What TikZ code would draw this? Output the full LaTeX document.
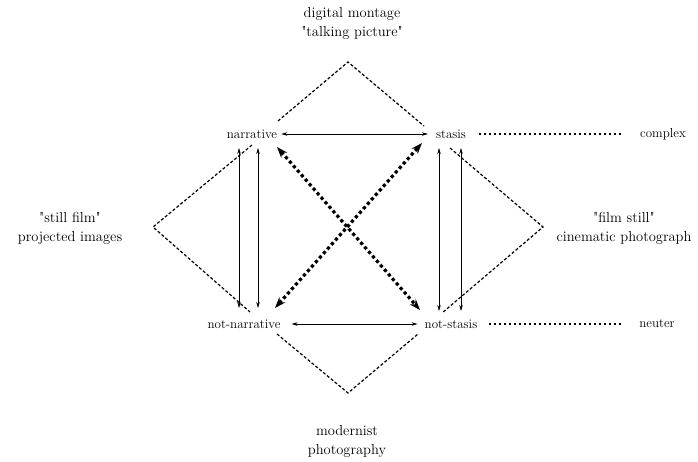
\documentclass[tikz,border=0pt]{standalone}
\usetikzlibrary{arrows.meta}
\begin{document}
\begin{tikzpicture}[x=1pt,y=-1pt,
  term/.style={font=\fontsize{13}{15}\selectfont},
  side/.style={font=\fontsize{14.5}{19}\selectfont,align=center},
  link/.style={line width=0.6pt,{Stealth[length=6pt,width=3.5pt]}-{Stealth[length=6pt,width=3.5pt]}},
  pull/.style={line width=3.2pt,dash pattern=on 3.2pt off 2.8pt,{Stealth[length=11pt,width=8pt]}-{Stealth[length=11pt,width=8pt]}},
  kite/.style={line width=1.2pt,dash pattern=on 3pt off 2pt},
  trail/.style={line width=1.4pt,dash pattern=on 1.4pt off 3.6pt}]
\tikzstyle{every node}+=[inner sep=0pt]
\useasboundingbox (0,0) rectangle (698,461);
\node [term] (narr) at (252,134) {narrative};
\node [term] (stas) at (451,134) {stasis};
\node [term] (nnarr) at (244,324) {not-narrative};
\node [term] (nstas) at (451,324) {not-stasis};
\node [term] (cplx) at (663,134) {complex};
\node [term] (neut) at (657,324) {neuter};
\node [side] (montage) at (352,23) {digital montage\\\textquotedbl talking picture\textquotedbl};
\node [side] (stillfilm) at (70,228) {\textquotedbl still film\textquotedbl\\projected images};
\node [side] (filmstill) at (624,228) {\textquotedbl film still\textquotedbl\\cinematic photograph};
\node [side] (modern) at (347,441) {modernist\\photography};
\coordinate (topapex) at (348,62);
\coordinate (leftapex) at (153,227);
\coordinate (rightapex) at (543,227);
\coordinate (botapex) at (348,393);
\draw [kite] ([shift={(26,-13)}]narr.center) -- (topapex) -- ([shift={(-27,-8)}]stas.center);
\draw [kite] ([shift={(0,11)}]narr.center) -- (leftapex) -- ([shift={(6,-12)}]nnarr.center);
\draw [kite] ([shift={(-1,14)}]stas.center) -- (rightapex) -- ([shift={(-9,-11)}]nstas.center);
\draw [kite] ([shift={(33,10)}]nnarr.center) -- (botapex) -- ([shift={(-33,10)}]nstas.center);
\draw [link,shorten <=4pt,shorten >=8pt] (narr) -- (stas);
\draw [link,shorten <=11pt,shorten >=7pt] (nnarr) -- (nstas);
\draw [link] ([shift={(-13,14)}]narr.center) -- ([shift={(-5,-16)}]nnarr.center);
\draw [link] ([shift={(6,14)}]narr.center) -- ([shift={(14,-16)}]nnarr.center);
\draw [link] ([shift={(-12,14)}]stas.center) -- ([shift={(-12,-13)}]nstas.center);
\draw [link] ([shift={(10,14)}]stas.center) -- ([shift={(10,-13)}]nstas.center);
\draw [pull] ([shift={(25,13)}]narr.center) -- ([shift={(-31,-14)}]nstas.center);
\draw [pull] ([shift={(31,-16)}]nnarr.center) -- ([shift={(-29,9)}]stas.center);
\draw [trail,shorten <=13pt,shorten >=17pt] (stas) -- (cplx);
\draw [trail,shorten <=12pt,shorten >=16pt] (nstas) -- (neut);
\end{tikzpicture}
\end{document}
